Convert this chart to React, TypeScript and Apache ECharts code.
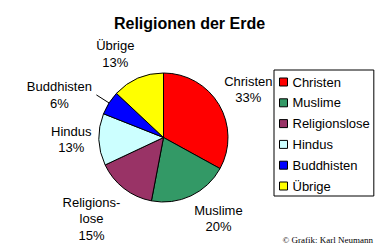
import React, { useEffect, useRef } from "react";
import * as echarts from "echarts";

const categories = ["Christen", "Muslime", "Religionslose", "Hindus", "Buddhisten", "Übrige"];
const shares = [33, 20, 15, 13, 6, 13];
const labelNames = ["Christen", "Muslime", "Religions-\nlose", "Hindus", "Buddhisten", "Übrige"];
const colors = ["#FF0000", "#339966", "#993366", "#CCFFFF", "#0000FF", "#FFFF00"];
const titleText = "Religionen der Erde";
const creditText = "© Grafik: Karl Neumann";
// small label nudges (px) to mimic the original label placement
const labelNudges = [
  [2, 1],
  [14, -6],
  [-13, 5],
  [4, -1],
  [0, 0],
  [-10, 5],
];
const calloutIndex = 4;

const FONT = "'Liberation Sans', Arial, sans-serif";

export default function App() {
  const ref = useRef<HTMLDivElement>(null);
  useEffect(() => {
    if (!ref.current) return;
    const chart = echarts.init(ref.current, null, { renderer: "svg" });
    const mainData = categories.map((name, i) => ({
      name,
      value: shares[i],
      itemStyle: { color: colors[i] },
      label: i === calloutIndex
        ? {
            show: true,
            formatter: `{c|${labelNames[i]}}\n{c|${shares[i]}%}`,
          }
        : { show: false },
      labelLine: i === calloutIndex ? { show: true } : { show: false },
    }));
    const ringData = categories.map((name, i) => ({
      name,
      value: shares[i],
      label: { show: i !== calloutIndex },
    }));
    chart.setOption({
      animation: false,
      backgroundColor: "#ffffff",
      title: {
        text: titleText,
        left: "center",
        top: 15,
        padding: 0,
        textStyle: { fontFamily: FONT, fontSize: 16, fontWeight: "bold", color: "#000" },
      },
      legend: {
        orient: "vertical",
        left: 274,
        top: 70,
        padding: [5, 4, 3, 5],
        borderColor: "#000",
        borderWidth: 1,
        itemWidth: 8,
        itemHeight: 8,
        itemGap: 6.8,
        icon: "rect",
        data: categories,
        itemStyle: { borderColor: "#000", borderWidth: 1 },
        textStyle: { fontFamily: FONT, fontSize: 13, lineHeight: 14, color: "#000" },
        selectedMode: false,
      },
      series: [
        {
          type: "pie",
          center: [163.5, 137.5],
          radius: 64.5,
          startAngle: 90,
          clockwise: true,
          avoidLabelOverlap: false,
          silent: true,
          itemStyle: { borderColor: "#000", borderWidth: 1 },
          label: {
            position: "outside",
            distanceToLabelLine: 4,
            color: "#000",
            fontFamily: FONT,
            fontSize: 13,
            rich: {
              c: { width: 66, align: "center", fontFamily: FONT, fontSize: 13, lineHeight: 16.5, color: "#000" },
            },
          },
          labelLine: { show: true, length: 15, length2: 0, smooth: false, lineStyle: { color: "#000", width: 1 } },
          emphasis: { disabled: true },
          data: mainData,
        },
        {
          type: "pie",
          center: [163.5, 137.5],
          radius: [64.5, 122],
          startAngle: 90,
          clockwise: true,
          avoidLabelOverlap: false,
          silent: true,
          legendHoverLink: false,
          itemStyle: { color: "rgba(0,0,0,0)", borderWidth: 0 },
          label: {
            position: "inside",
            color: "#000",
            fontFamily: FONT,
            fontSize: 13,
            lineHeight: 16.5,
            align: "center",
            formatter: (p: any) => `${labelNames[p.dataIndex]}\n${shares[p.dataIndex]}%`,
          },
          labelLine: { show: false },
          labelLayout: (p: any) => ({
            dx: labelNudges[p.dataIndex][0],
            dy: labelNudges[p.dataIndex][1],
          }),
          emphasis: { disabled: true },
          data: ringData,
        },
      ],
      graphic: [
        {
          type: "text",
          right: 6,
          top: 235,
          style: {
            text: creditText,
            fontFamily: "'Liberation Serif', 'Times New Roman', serif",
            fontSize: 9,
            fill: "#000",
          },
        },
      ],
    });
    return () => chart.dispose();
  }, []);
  return (
    <div
      ref={ref}
      style={{ position: "fixed", left: 0, top: 0, width: 379, height: 252, background: "#fff" }}
    />
  );
}
